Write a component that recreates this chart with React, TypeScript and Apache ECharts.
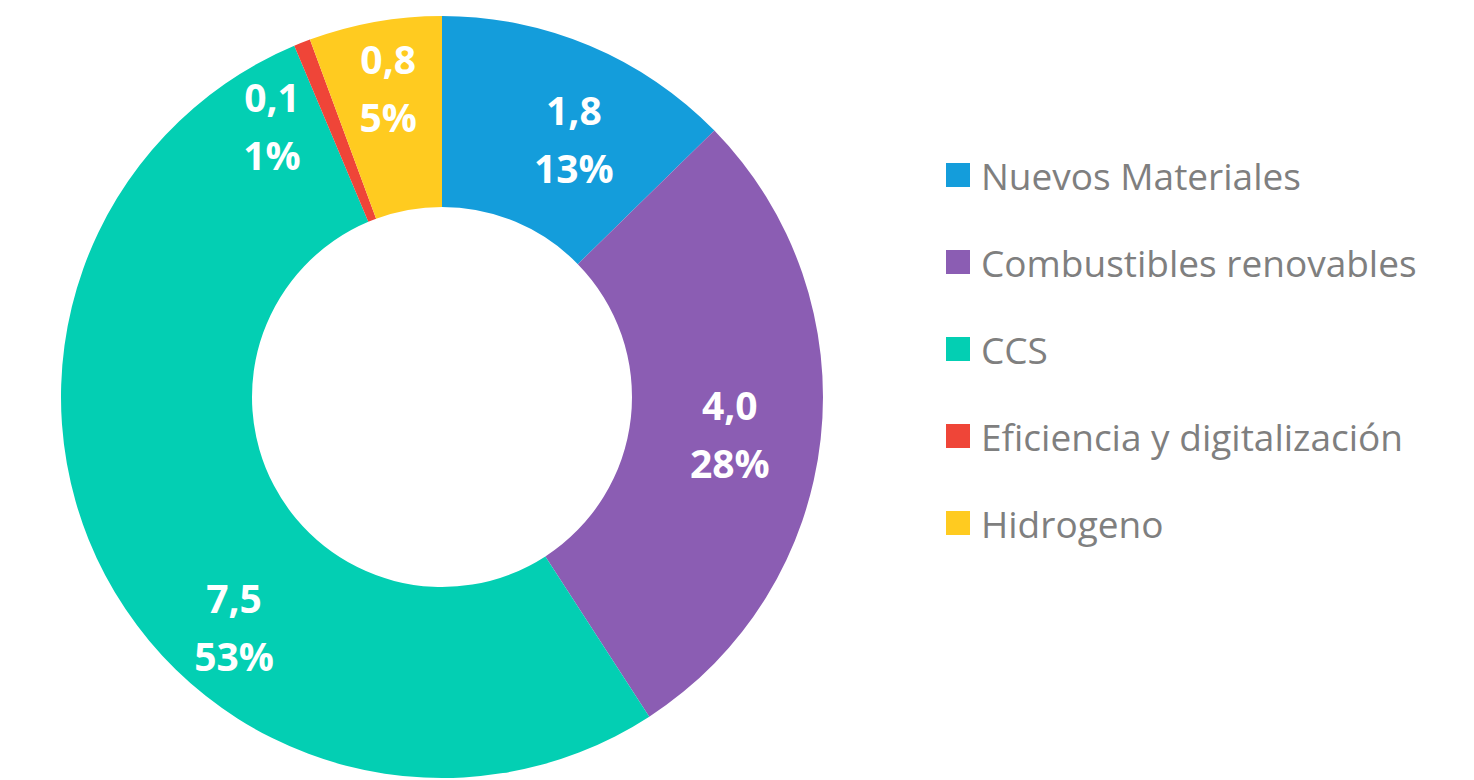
import React, { useEffect, useRef } from "react";
import * as echarts from "echarts";

const categories = [
  "Nuevos Materiales",
  "Combustibles renovables",
  "CCS",
  "Eficiencia y digitalización",
  "Hidrogeno",
];
const values = [1.8, 4.0, 7.5, 0.1, 0.8];
const percentLabels = ["13%", "28%", "53%", "1%", "5%"];
const colors = ["#149ddb", "#8b5db3", "#03cfb3", "#ef4538", "#ffcb20"];
// label nudges (px) to match the reference placement
const labelShift = [
  [20, 7],
  [1, 5],
  [47, 95],
  [-64, -3],
  [-3, -26],
];

export default function App() {
  const ref = useRef<HTMLDivElement>(null);
  useEffect(() => {
    if (!ref.current) return;
    const chart = echarts.init(ref.current, null, { renderer: "svg" });
    chart.setOption({
      animation: false,
      backgroundColor: "#ffffff",
      color: colors,
      legend: {
        orient: "vertical",
        left: 946,
        top: 155,
        padding: 0,
        icon: "rect",
        itemWidth: 24,
        itemHeight: 24,
        itemGap: 47,
        data: categories,
        textStyle: {
          fontFamily: "Open Sans",
          fontSize: 37,
          color: "#7f7f7f",
          lineHeight: 40,
          padding: [0, 0, 0, 6],
        },
      },
      series: [
        {
          type: "pie",
          center: [442, 397],
          radius: [190, 381],
          startAngle: 90,
          clockwise: true,
          avoidLabelOverlap: false,
          data: categories.map((name, i) => ({ name, value: values[i] })),
          label: {
            show: true,
            position: "inside",
            formatter: (p: any) =>
              values[p.dataIndex].toFixed(1).replace(".", ",") +
              "\n" +
              percentLabels[p.dataIndex],
            color: "#ffffff",
            fontFamily: "Open Sans",
            fontWeight: "bold",
            fontSize: 39,
            lineHeight: 58,
            align: "center",
          },
          labelLayout: (p: any) => ({
            dx: labelShift[p.dataIndex][0],
            dy: labelShift[p.dataIndex][1],
          }),
          labelLine: { show: false },
          emphasis: { disabled: true },
        },
      ],
    });
    return () => chart.dispose();
  }, []);
  return (
    <div
      ref={ref}
      style={{ position: "fixed", left: 0, top: 0, width: 1474, height: 780 }}
    />
  );
}
